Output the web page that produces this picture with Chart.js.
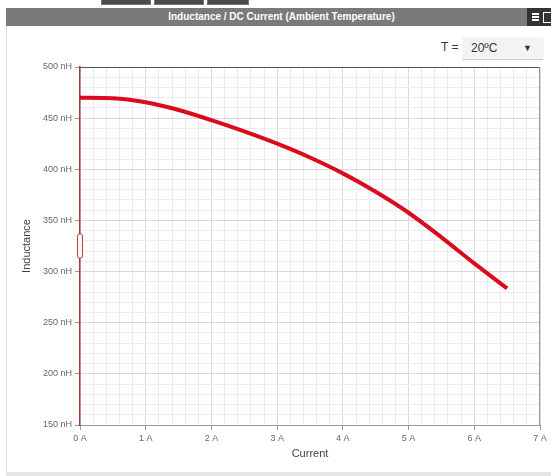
<!DOCTYPE html>
<html>
<head>
<meta charset="utf-8">
<script src="https://cdn.jsdelivr.net/npm/chart.js@4.4.1/dist/chart.umd.min.js"></script>
<style>
    body { margin: 0; background: #fff; font-family: "Liberation Sans", Arial, sans-serif; width: 551px; height: 476px; overflow: hidden; position: relative; }
    .btn { position: absolute; top: 0; height: 4px; background: #4a4a4a; border: 1px solid #777; border-top: none; }
    #header { position: absolute; left: 6px; top: 8px; width: 539px; padding-left: 6px; height: 18px; background: #7a7a7a; color: #fff; font-weight: bold; font-size: 10px; line-height: 18px; text-align: center; }
    #icons { position: absolute; left: 527px; top: 8px; width: 24px; height: 18px; background: #333; }
    #panel { position: absolute; left: 6px; top: 26px; width: 545px; height: 446px; border-left: 1px solid #ddd; border-bottom: 4px solid #e6e6e6; }
    #tlabel { position: absolute; left: 441px; top: 40px; font-size: 12px; color: #333; }
    #sel { position: absolute; left: 463px; top: 37px; width: 80px; height: 22px; background: #f3f3f3; box-shadow: 0 1px 1px #ccc; font-size: 12px; color: #333; line-height: 22px; }
    #sel span.v { position: absolute; left: 8px; }
    #sel span.a { position: absolute; left: 60px; font-size: 9px; }
    #wrap { position: absolute; left: 0; top: 55px; width: 551px; height: 415px; }
</style>
</head>
<body>
<div class="btn" style="left:101px; width:48px;"></div>
<div class="btn" style="left:154px; width:48px;"></div>
<div class="btn" style="left:207px; width:40px;"></div>
<div id="header">Inductance / DC Current (Ambient Temperature)</div>
<div id="icons">
    <div style="position:absolute; left:5px; top:5px; width:7px; height:2px; background:#fff; box-shadow:0 3px 0 #fff, 0 6px 0 #fff;"></div>
    <div style="position:absolute; left:16px; top:4px; width:10px; height:9px; border:1px solid #fff;"></div>
</div>
<div id="panel"></div>
<div id="tlabel">T =</div>
<div id="sel"><span class="v">20ºC</span><span class="a">&#9660;</span></div>
<div id="wrap"><canvas id="chart" width="551" height="415"></canvas></div>

<script>
    // values
    var currents = [0, 0.5, 1, 1.5, 2, 2.5, 3, 3.5, 4, 4.5, 5, 5.5, 6, 6.5];
    var inductances = [470, 469.5, 465.5, 458, 448, 437, 425, 411.5, 396, 378, 357.5, 333.5, 308, 283.5];
    var seriesName = "20ºC";

    var points = [];
    for (let i = 0; i < currents.length; i++) {
        points.push({x: currents[i], y: inductances[i]});
    }

    function isMajor(v, step) {
        var r = v / step;
        return Math.abs(r - Math.round(r)) < 1e-6;
    }

    const frame = {
        id: 'frame',
        afterDraw(chart) {
            const ctx = chart.ctx;
            const a = chart.chartArea;
            ctx.save();
            // top + right border
            ctx.strokeStyle = '#555';
            ctx.lineWidth = 1;
            ctx.beginPath();
            ctx.moveTo(a.left, a.top + 0.5);
            ctx.lineTo(a.right, a.top + 0.5);
            ctx.stroke();
            ctx.strokeStyle = '#999';
            ctx.beginPath();
            ctx.moveTo(a.right - 0.5, a.top);
            ctx.lineTo(a.right - 0.5, a.bottom);
            ctx.stroke();
            // slider handle on the y axis
            const cy = (a.top + a.bottom) / 2;
            ctx.fillStyle = '#fff';
            ctx.strokeStyle = '#c43a3a';
            ctx.beginPath();
            ctx.roundRect(a.left - 2.5, cy - 12, 5, 24, 2);
            ctx.fill();
            ctx.stroke();
            ctx.restore();
        }
    };

    const chart = new Chart(document.getElementById('chart'), {
        type: 'line',
        data: {
            datasets: [{
                label: seriesName,
                data: points,
                borderColor: '#dc0a1e',
                borderWidth: 4,
                pointRadius: 0,
                cubicInterpolationMode: 'monotone',
                fill: false
            }]
        },
        options: {
            responsive: false,
            animation: false,
            layout: { padding: { top: 12, right: 11, left: 0, bottom: 0 } },
            plugins: { legend: { display: false }, tooltip: { enabled: false } },
            scales: {
                x: {
                    type: 'linear',
                    min: 0, max: 7,
                    afterFit: function(s) { s.height = 45; },
                    ticks: {
                        stepSize: 0.2,
                        autoSkip: false,
                        maxRotation: 0,
                        padding: 3,
                        color: '#666',
                        font: { family: 'Liberation Sans, Arial', size: 9 },
                        callback: function(v) { return isMajor(v, 1) ? Math.round(v) + ' A' : ''; }
                    },
                    grid: {
                        tickLength: 5,
                        color: function(c) { return isMajor(c.tick.value, 1) ? '#dadada' : '#ececec'; },
                        tickColor: function(c) { return isMajor(c.tick.value, 1) ? '#999' : 'rgba(0,0,0,0)'; }
                    },
                    border: { color: '#999', width: 1 },
                    title: {
                        display: true,
                        text: 'Current',
                        color: '#444',
                        padding: { top: 0, bottom: 9 },
                        font: { family: 'Liberation Sans, Arial', size: 11 }
                    }
                },
                y: {
                    min: 150, max: 500,
                    afterFit: function(s) { s.width = 80; },
                    ticks: {
                        stepSize: 10,
                        autoSkip: false,
                        padding: 3,
                        color: '#666',
                        font: { family: 'Liberation Sans, Arial', size: 9 },
                        callback: function(v) { return isMajor(v, 50) ? v + ' nH' : ''; }
                    },
                    grid: {
                        tickLength: 5,
                        color: function(c) { return isMajor(c.tick.value, 50) ? '#dadada' : '#ececec'; },
                        tickColor: function(c) { return isMajor(c.tick.value, 50) ? '#999' : 'rgba(0,0,0,0)'; }
                    },
                    border: { color: '#a33a3a', width: 1.5 },
                    title: {
                        display: true,
                        text: 'Inductance',
                        color: '#444',
                        padding: { top: 20, bottom: 0 },
                        font: { family: 'Liberation Sans, Arial', size: 11 }
                    }
                }
            }
        },
        plugins: [frame]
    });
</script>
</body>
</html>
